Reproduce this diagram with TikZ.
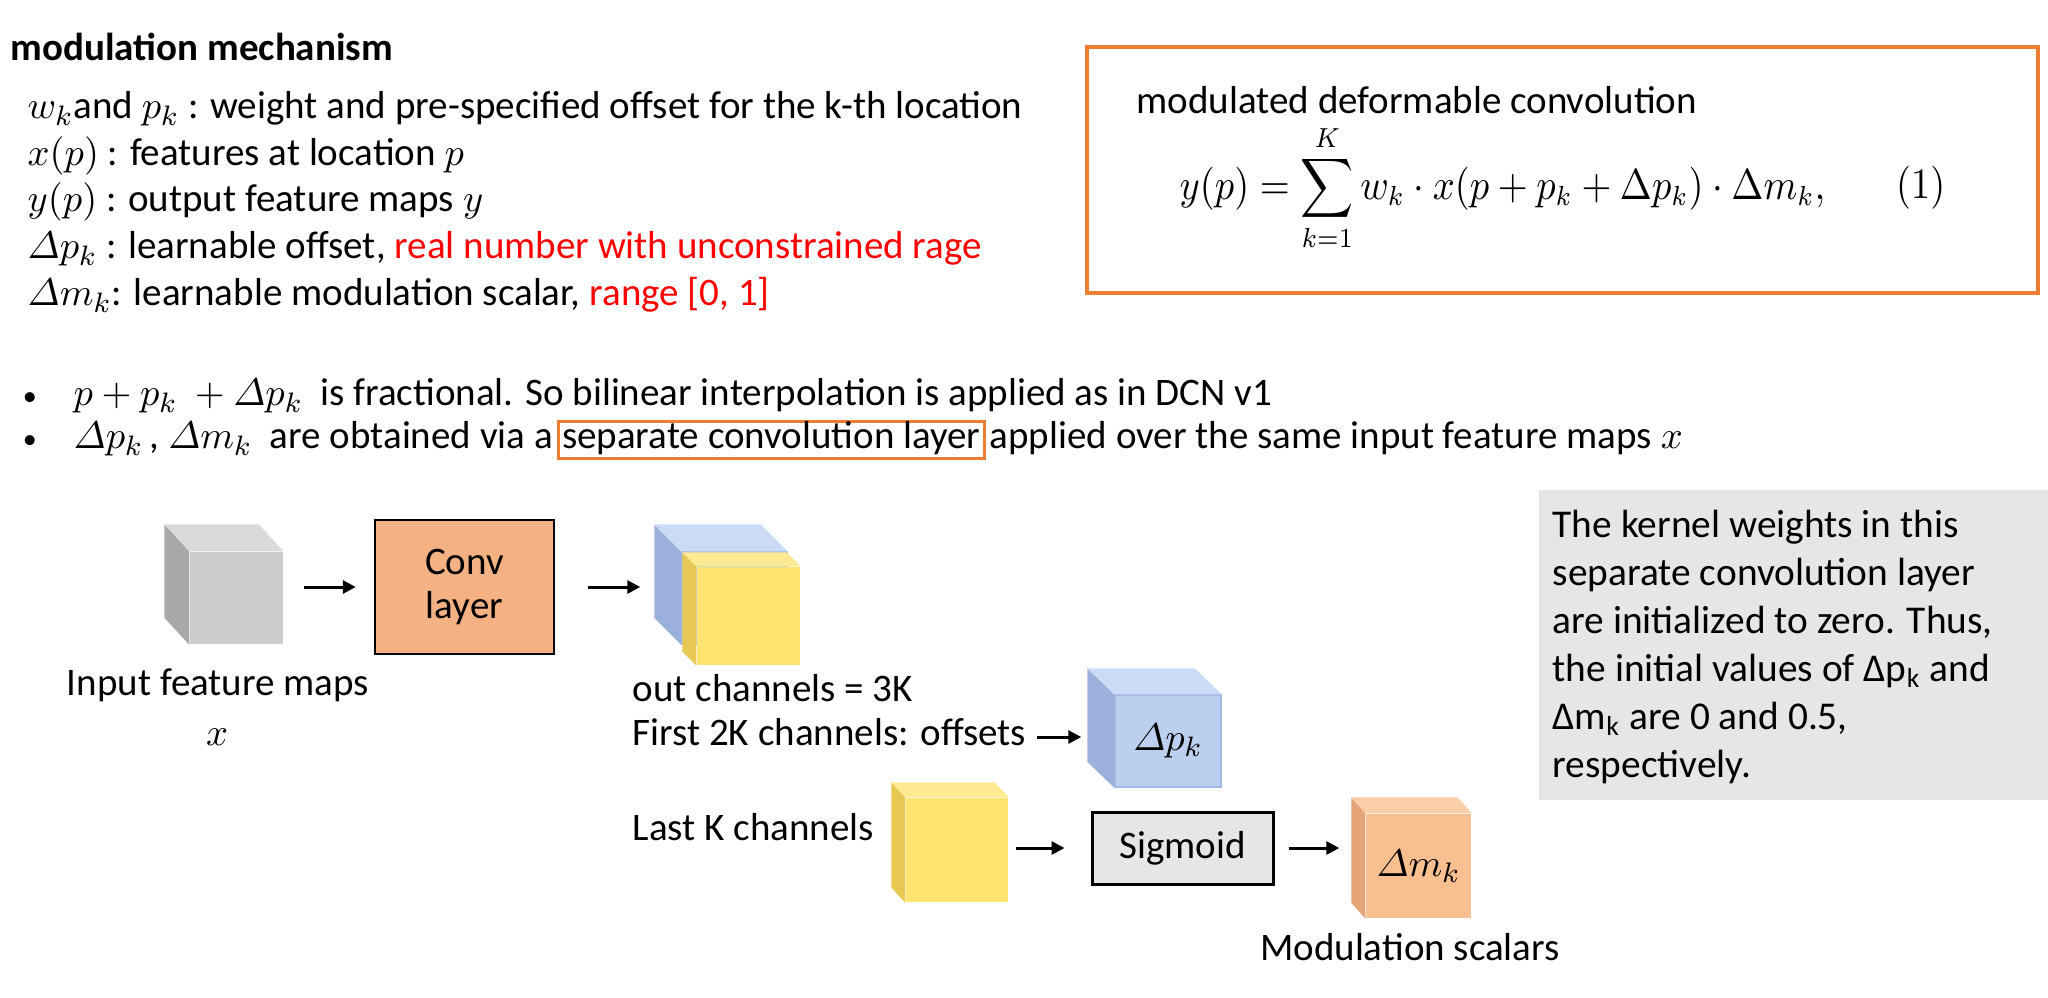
\documentclass[tikz,border=0pt]{standalone}
\usepackage{amsmath,amssymb}
\usepackage{graphicx}
\usepackage[no-math]{fontspec}
\setmainfont{Carlito}
\usepackage{xcolor}
\usepackage{tikz}
\usetikzlibrary{arrows.meta, positioning, calc}
\definecolor{accentorange}{RGB}{237, 125, 49}
\definecolor{convorange}{RGB}{244, 177, 131}
\definecolor{boxgray}{RGB}{231, 230, 230}
\definecolor{cubegray}{RGB}{205, 205, 205}
\definecolor{cubegrayside}{RGB}{168, 168, 168}
\definecolor{cubegraytop}{RGB}{218, 218, 218}
\definecolor{cubeblue}{RGB}{189, 207, 238}
\definecolor{cubeblueside}{RGB}{155, 177, 220}
\definecolor{cubebluetop}{RGB}{203, 219, 245}
\definecolor{cubeblueedge}{RGB}{160, 185, 228}
\definecolor{cubeyellow}{RGB}{255, 226, 112}
\definecolor{cubeyellowside}{RGB}{232, 200, 84}
\definecolor{cubeyellowtop}{RGB}{255, 233, 145}
\definecolor{cubeorange}{RGB}{248, 192, 145}
\definecolor{cubeorangeside}{RGB}{228, 164, 120}
\definecolor{cubeorangetop}{RGB}{250, 206, 168}

% side and top faces of a box drawn behind its front node
\newcommand{\cubefaces}[5]{%
  \fill[#4] (#1.north west) -- ++(-#2,-#3) -- ($(#1.south west)+(-#2,-#3)$) -- (#1.south west) -- cycle;
  \fill[#5] (#1.north west) -- ++(-#2,-#3) -- ($(#1.north east)+(-#2,-#3)$) -- (#1.north east) -- cycle;
}

\begin{document}
\begin{tikzpicture}[
    x=0.1mm, y=-0.1mm,
    txt/.style={inner sep=0, anchor=west, text height=0.75em, text depth=0.25em, font=\fontsize{11.1}{13}\selectfont},
    cubefront/.style={fill=#1, inner sep=0, font=\fontsize{11.1}{13}\selectfont},
    layer/.style={draw=black, line width=0.25mm, fill=convorange, align=center, inner sep=0, font=\fontsize{11.1}{12.3}\selectfont},
    eqframe/.style={draw=accentorange, line width=0.4mm, inner sep=0},
    arr/.style={-{Triangle[length=1.3mm, width=1.3mm]}, line width=0.3mm}
]
    \useasboundingbox (0,0) rectangle (2048,997);

    % Notation
    \node[txt, font=\fontsize{11.1}{13}\selectfont\bfseries] (title) at (10,52) {modulation mechanism};
    \node[txt] (l1) at (27,110) {$w_k$and $p_k$ : weight and pre-specified offset for the k-th location};
    \node[txt] (l2) at (27,157) {$x(p)$ : features at location $p$};
    \node[txt] (l3) at (27,203) {$y(p)$ : output feature maps $y$};
    \node[txt] (l4) at (27,250) {$\varDelta p_k$ : learnable offset, \textcolor{red}{real number with unconstrained rage}};
    \node[txt] (l5) at (27,297) {$\varDelta m_k$: learnable modulation scalar, \textcolor{red}{range [0, 1]}};

    % Equation box
    \node[eqframe, minimum width=95.1mm, minimum height=24.6mm] (eqbox) at (1562.5,170) {};
    \node[txt] (eqtitle) at (1136,105) {modulated deformable convolution};
    \node[inner sep=0, anchor=west, font=\fontsize{10.5}{12}\selectfont] (eqn) at (1179,188)
        {\scalebox{1}[1.12]{$\displaystyle y(p)=\sum_{k=1}^{K} w_k\cdot x(p+p_k+\Delta p_k)\cdot\Delta m_k,$}};
    \node[inner sep=0, anchor=east, font=\fontsize{10.5}{12}\selectfont] (eqno) at (1946,188) {\scalebox{1}[1.12]{$(1)$}};

    % Bullets
    \node[txt, anchor=center, font=\fontsize{8}{10}\selectfont] (bul1) at (30,397) {\textbullet};
    \node[txt] (b1) at (73,397) {$p+p_k\ +\varDelta p_k$\ \ is fractional. So bilinear interpolation is applied as in DCN v1};
    \node[txt, anchor=center, font=\fontsize{8}{10}\selectfont] (bul2) at (30,440) {\textbullet};
    \node[txt] (b2) at (73,440) {$\varDelta p_k$\,, $\varDelta m_k$\ \ are obtained via a};
    \node[txt, draw=accentorange, line width=0.3mm, inner xsep=0.4mm, inner ysep=0.1mm, anchor=base west, xshift=0.3mm] (sep) at (b2.base east) {separate convolution layer};
    \node[txt, anchor=base west, xshift=0.3mm] (b2c) at (sep.base east) {applied over the same input feature maps $x$};

    % Input and conv layer
    \node[cubefront=cubegray, minimum width=9.3mm, minimum height=9.2mm] (inp) at (236.5,598) {};
    \cubefaces{inp}{25}{27}{cubegrayside}{cubegraytop}
    \node[txt, anchor=center] (inplbl) at (218,687) {Input feature maps};
    \node[txt, anchor=center] (inpx) at (217,737) {$x$};
    \node[layer, minimum width=17.9mm, minimum height=13.4mm] (conv) at (464.5,587) {Conv\\layer};
    \draw[arr, shorten <=2mm, shorten >=1.8mm] (inp.east |- conv.west) -- (conv.west);

    % Conv output
    \node[cubefront=cubeblue, draw=cubeblueedge, line width=0.15mm, minimum width=10.5mm, minimum height=9.2mm] (blu) at (734.5,598) {};
    \cubefaces{blu}{27}{27}{cubeblueside}{cubebluetop}
    \node[cubefront=cubeyellow, minimum width=10.3mm, minimum height=9.8mm] (yel) at (748.5,616) {};
    \cubefaces{yel}{14}{14}{cubeyellowside}{cubeyellowtop}
    \draw[arr, shorten <=3.3mm, shorten >=4.1mm] (conv.east) -- (conv.east -| blu.west);

    \node[txt] (outch) at (632,693) {out channels = 3K};
    \node[txt] (first) at (632,737) {First 2K channels: offsets};
    \node[cubefront=cubeblue, draw=cubeblueedge, line width=0.15mm, minimum width=10.6mm, minimum height=9.2mm] (dp) at (1168,741) {$\varDelta p_k$};
    \cubefaces{dp}{27}{26}{cubeblueside}{cubebluetop}
    \draw[arr, shorten <=1mm, shorten >=3.3mm] (first.east) -- (first.east -| dp.west);

    % Modulation branch
    \node[txt] (lastk) at (632,832) {Last K channels};
    \node[cubefront=cubeyellow, minimum width=10.2mm, minimum height=10.4mm] (lk) at (957,850) {};
    \cubefaces{lk}{14}{15}{cubeyellowside}{cubeyellowtop}
    \node[layer, fill=boxgray, line width=0.3mm, minimum width=18.1mm, minimum height=7.2mm] (sig) at (1182.5,848) {Sigmoid};
    \draw[arr, shorten <=0.7mm, shorten >=2.6mm] (lk.east |- sig.west) -- (sig.west);
    \node[cubefront=cubeorange, minimum width=10.5mm, minimum height=10.4mm] (dm) at (1418.5,866) {$\varDelta m_k$};
    \cubefaces{dm}{14}{16}{cubeorangeside}{cubeorangetop}
    \draw[arr, shorten <=1.4mm, shorten >=2.6mm] (sig.east) -- (sig.east -| dm.west);
    \node[txt, anchor=center] (modsc) at (1410,952) {Modulation scalars};

    % Note
    \node[fill=boxgray, inner sep=0, minimum width=51mm, minimum height=31mm, anchor=north west] (note) at (1538,489) {};
    \node[inner sep=0, anchor=north west, align=left, font=\fontsize{11.2}{13.7}\selectfont] (notetxt) at (1552,509)
        {The kernel weights in this\\separate convolution layer\\are initialized to zero. Thus,\\the initial values of Δp\textsubscript{k} and\\Δm\textsubscript{k} are 0 and 0.5,\\respectively.};
\end{tikzpicture}
\end{document}
